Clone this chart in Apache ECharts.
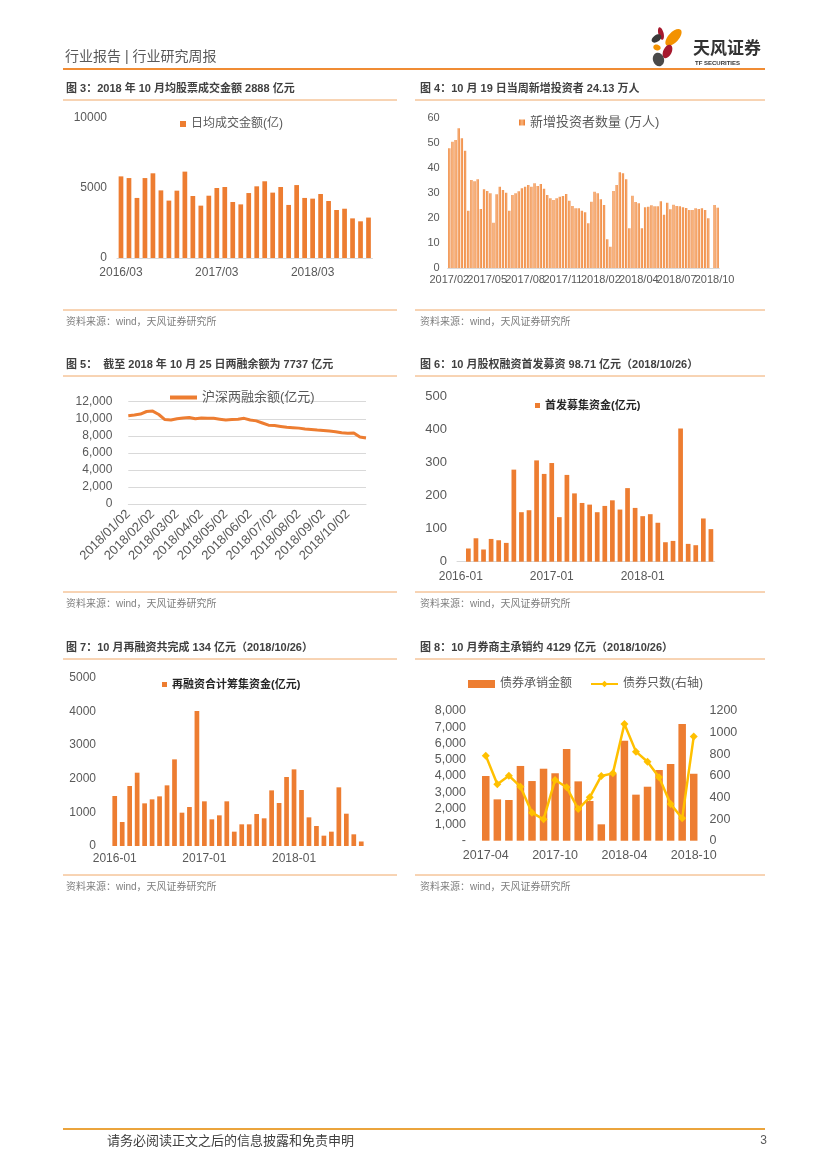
<!DOCTYPE html>
<html><head><meta charset="utf-8">
<script src="https://cdn.jsdelivr.net/npm/echarts/dist/echarts.min.js"></script>
<style>html,body{margin:0;padding:0;background:#fff}#c{width:827px;height:1169px}</style>
</head><body><div id="c"></div>
<script>
// ---------------- data ----------------
function monthSeq(y, m, n, sep) {
  const out = [];
  for (let i = 0; i < n; i++) {
    const mm = ((m - 1 + i) % 12) + 1, yy = y + Math.floor((m - 1 + i) / 12);
    out.push(yy + sep + (mm < 10 ? '0' + mm : mm));
  }
  return out;
}
// 图3 日均成交金额(亿) 2016/03 - 2018/10
const c3Categories = monthSeq(2016, 3, 32, '/');
const c3Values = [5830,5710,4290,5710,6050,4830,4100,4810,6170,4430,3740,4450,5000,5070,4000,3830,4640,5120,5480,4670,5070,3790,5210,4290,4240,4570,4070,3430,3520,2830,2620,2888];

// 图4 新增投资者数量(万人) weekly
const c4Values = [47.9,50.5,51.2,55.9,51.9,46.9,22.9,35.2,34.7,35.5,23.6,31.5,30.8,29.9,18.1,29.5,32.5,31.2,30.1,22.9,29.2,29.9,30.7,31.9,32.5,33.2,32.5,33.9,32.8,33.6,31.7,29.2,27.9,27.2,27.9,28.5,28.8,29.6,26.9,24.8,23.9,23.9,22.9,22.3,17.9,26.5,30.5,29.9,27.5,25.2,11.5,8.5,30.8,33.2,38.3,37.9,35.5,15.9,28.9,26.4,25.9,15.9,24.3,24.5,25.1,24.7,24.7,26.7,21.3,26.1,23.5,25.3,24.8,24.7,24.3,24.0,23.2,23.2,23.9,23.6,23.9,23.2,19.9,0,25.2,24.13];
const c4TickLabels = ['2017/02','2017/05','2017/08','2017/11','2018/02','2018/04','2018/07','2018/10'];
const c4Categories = c4Values.map((v, i) => 'W' + i);

// 图5 沪深两融余额(亿元) 2018
const c5Categories = ['2018/01/02','2018/01/09','2018/01/16','2018/01/23','2018/02/02','2018/02/09','2018/02/16','2018/02/23','2018/03/02','2018/03/09','2018/03/16','2018/03/23','2018/04/02','2018/04/09','2018/04/16','2018/04/23','2018/05/02','2018/05/09','2018/05/16','2018/05/23','2018/06/02','2018/06/09','2018/06/16','2018/06/23','2018/07/02','2018/07/09','2018/07/16','2018/07/23','2018/08/02','2018/08/09','2018/08/16','2018/08/23','2018/09/02','2018/09/09','2018/09/16','2018/09/23','2018/10/02','2018/10/09','2018/10/16','2018/10/25'];
const c5Values = [10360,10450,10550,10850,10900,10500,9900,9850,10000,10100,10150,10000,10100,10050,10050,9950,9850,9900,9950,10050,9850,9750,9500,9250,9200,9100,9000,8950,8900,8800,8750,8680,8620,8560,8480,8350,8300,8330,7850,7737];

// 图6 首发募集资金(亿元) 2016-01 - 2018-10
const c6Categories = monthSeq(2016, 1, 34, '-');
const c6Values = [0,40,71,37,69,65,57,279,150,156,307,266,299,135,263,207,178,173,150,169,186,158,223,163,138,144,118,59,63,404,54,50,131,98.71];

// 图7 再融资合计筹集资金(亿元) 2016-01 - 2018-10
const c7Categories = monthSeq(2016, 1, 34, '-');
const c7Values = [1485,713,1782,2178,1267,1386,1475,1802,2574,990,1158,4010,1327,792,911,1327,426,644,644,950,822,1653,1277,2050,2277,1663,851,594,307,426,1743,960,347,134];

// 图8 债券承销金额 / 债券只数 2017-04 - 2018-10
const c8Categories = monthSeq(2017, 4, 19, '-');
const c8Amount = [3990,2550,2510,4610,3680,4440,4160,5660,3660,2450,1010,4120,6170,2840,3330,4360,4730,7200,4129];
const c8Count = [787,522,602,500,259,198,562,494,293,401,599,623,1080,824,731,586,340,207,963];

// ---------------- styles ----------------
const FONT = '"Liberation Sans","Noto Sans CJK SC",sans-serif';
const ORANGE = '#ED7D31';
const GOLD = '#FFC000';
const LBL = '#595959';
const RULE = '#F0A868';
const plain = v => String(v);
const thousands = v => v === 0 ? '0' : v.toLocaleString('en-US');

function catAxis(gridIndex, data, label, opts) {
  return Object.assign({
    type: 'category', gridIndex: gridIndex, data: data,
    axisTick: { show: false },
    axisLine: { show: true, lineStyle: { color: '#D9D9D9', width: 1 } },
    axisLabel: Object.assign({ color: LBL, fontFamily: FONT, fontSize: 12, margin: 8,
      hideOverlap: false, showMinLabel: true }, label || {}),
    splitLine: { show: false }
  }, opts || {});
}
function valAxis(gridIndex, max, interval, label, opts) {
  return Object.assign({
    type: 'value', gridIndex: gridIndex, min: 0, max: max, interval: interval,
    axisTick: { show: false }, axisLine: { show: false },
    axisLabel: Object.assign({ color: LBL, fontFamily: FONT, fontSize: 12, margin: 10, formatter: plain,
      hideOverlap: false }, label || {}),
    splitLine: { show: false }
  }, opts || {});
}
function grid(left, top, width, height) {
  return { left: left, top: top, width: width, height: height, containLabel: false, outerBoundsMode: 'none' };
}

// ---------------- page graphics ----------------
const g = [];
function text(x, y, s, font, fill, align) {
  g.push({ type: 'text', x: x, y: y, silent: true,
    style: { text: s, font: font, fill: fill, align: align || 'left', verticalAlign: 'middle' } });
}
function rule(x1, y, x2, color, w) {
  g.push({ type: 'line', silent: true, shape: { x1: x1, y1: y, x2: x2, y2: y }, style: { stroke: color, lineWidth: w } });
}
function petal(x, y, rx, ry, rot, color) {
  g.push({ type: 'ellipse', x: x, y: y, rotation: rot, silent: true, shape: { cx: 0, cy: 0, rx: rx, ry: ry }, style: { fill: color } });
}
// header
text(65, 57, '行业报告 | 行业研究周报', '14px ' + FONT, '#595959');
rule(63, 69, 765, '#F08C34', 2);
petal(661, 33.5, 2.6, 6.5, 0.25, '#A6192E');
petal(673.5, 37.5, 5.2, 10.5, -0.75, '#F39200');
petal(656.5, 38.5, 5.5, 3.3, 0.6, '#3A3A3A');
petal(657, 47.5, 3.8, 2.8, -0.3, '#F39200');
petal(667.5, 51.5, 4.2, 7.2, -0.45, '#A6192E');
petal(658.5, 59.5, 5.5, 6.8, 0.35, '#4A4A4A');
text(693, 49, '天风证券', 'bold 17px ' + FONT, '#333333');
text(695, 63, 'TF SECURITIES', 'bold 6px ' + FONT, '#333333');
// titles & sources
const TFONT = 'bold 11px ' + FONT;
const SFONT = '10px ' + FONT;
const titles = [
  [66, 89, '图 3：2018 年 10 月均股票成交金额 2888 亿元'],
  [420, 89, '图 4：10 月 19 日当周新增投资者 24.13 万人'],
  [66, 365, '图 5：  截至 2018 年 10 月 25 日两融余额为 7737 亿元'],
  [420, 365, '图 6：10 月股权融资首发募资 98.71 亿元（2018/10/26）'],
  [66, 648, '图 7：10 月再融资共完成 134 亿元（2018/10/26）'],
  [420, 648, '图 8：10 月券商主承销约 4129 亿元（2018/10/26）']
];
titles.forEach(t => text(t[0], t[1], t[2], TFONT, '#404040'));
[100, 376, 659].forEach(y => { rule(63, y, 397, RULE, 1); rule(415, y, 765, RULE, 1); });
[[310, 322], [592, 604], [875, 887]].forEach(p => {
  rule(63, p[0], 397, RULE, 1); rule(415, p[0], 765, RULE, 1);
  text(66, p[1], '资料来源：wind，天风证券研究所', SFONT, '#7F7F7F');
  text(420, p[1], '资料来源：wind，天风证券研究所', SFONT, '#7F7F7F');
});
// footer
rule(63, 1129, 765, '#EBA43C', 2);
text(107, 1141, '请务必阅读正文之后的信息披露和免责申明', '13px ' + FONT, '#404040');
text(767, 1141, '3', '12px ' + FONT, '#595959', 'right');

// ---------------- chart ----------------
const chart = echarts.init(document.getElementById('c'), null, { renderer: 'canvas', width: 827, height: 1169 });

const c4Gradient = new echarts.graphic.LinearGradient(0, 0, 1, 0, [
  { offset: 0, color: '#EC7A2C' }, { offset: 0.5, color: '#F8B47C' }, { offset: 1, color: '#EC7A2C' }
]);
const c4LabelA = (v, i) => (i % 24 === 0 ? c4TickLabels[i / 12] : '');
const c4LabelB = (v, i) => (i % 24 === 12 ? c4TickLabels[i / 12] : '');

const option = {
  animation: false,
  backgroundColor: '#ffffff',
  textStyle: { fontFamily: FONT },
  graphic: g,
  grid: [
    grid(117, 118, 255.5, 140),
    grid(447.7, 118, 271.6, 150),
    grid(128.3, 401.7, 237.7, 102.3),
    grid(457, 396.7, 257.7, 165),
    grid(111, 677.7, 254, 168.3),
    grid(480, 711, 219.5, 129.7)
  ],
  xAxis: [
    catAxis(0, c3Categories, { margin: 9, interval: 11 }),
    catAxis(1, c4Categories, { fontSize: 11, margin: 6, interval: i => i % 24 === 0, formatter: c4LabelA }, { position: 'bottom' }),
    catAxis(2, c5Categories, { fontSize: 13, margin: 8, interval: 3, rotate: 45 }, { boundaryGap: false }),
    catAxis(3, c6Categories, { margin: 9, interval: 11 }),
    catAxis(4, c7Categories, { margin: 7, interval: 11 }, { axisLine: { show: false } }),
    catAxis(5, c8Categories, { fontSize: 12.5, margin: 9, interval: 5 }, { axisLine: { show: false } }),
    // second label row for 图4 (alternate ticks, same positions)
    catAxis(1, c4Categories, { fontSize: 11, margin: 6, interval: i => i % 24 === 12, formatter: c4LabelB, showMinLabel: null },
      { position: 'bottom', offset: 0, axisLine: { show: false } })
  ],
  yAxis: [
    valAxis(0, 10000, 5000),
    valAxis(1, 60, 10, { fontSize: 11, margin: 8 }),
    valAxis(2, 12000, 2000, { margin: 16, formatter: thousands },
      { splitLine: { show: true, lineStyle: { color: '#D9D9D9', width: 1 } } }),
    valAxis(3, 500, 100, { fontSize: 13, margin: 10 }),
    valAxis(4, 5000, 1000, { margin: 15 }),
    valAxis(5, 8000, 1000, { fontSize: 12.5, margin: 14, formatter: v => (v === 0 ? '-' : v.toLocaleString('en-US')) }),
    valAxis(5, 1200, 200, { fontSize: 12.5, margin: 10 }, { position: 'right' })
  ],
  legend: [
    { left: 180, top: 118, padding: 0, icon: 'rect', itemWidth: 6, itemHeight: 6, itemGap: 10,
      data: ['日均成交金额(亿)'], textStyle: { color: LBL, fontSize: 12, fontFamily: FONT } },
    { left: 519, top: 116, padding: 0, icon: 'rect', itemWidth: 6, itemHeight: 6,
      data: ['新增投资者数量 (万人)'], textStyle: { color: LBL, fontSize: 13, fontFamily: FONT } },
    { left: 170, top: 391, padding: 0, icon: 'rect', itemWidth: 27, itemHeight: 4,
      data: ['沪深两融余额(亿元)'], textStyle: { color: LBL, fontSize: 13, fontFamily: FONT } },
    { left: 535, top: 400, padding: 0, icon: 'rect', itemWidth: 5, itemHeight: 5,
      data: ['首发募集资金(亿元)'], textStyle: { color: '#262626', fontSize: 11, fontWeight: 'bold', fontFamily: FONT } },
    { left: 162, top: 679, padding: 0, icon: 'rect', itemWidth: 5, itemHeight: 5,
      data: ['再融资合计筹集资金(亿元)'], textStyle: { color: '#262626', fontSize: 11, fontWeight: 'bold', fontFamily: FONT } },
    { left: 468, top: 678, padding: 0, itemWidth: 27, itemHeight: 8, itemGap: 18,
      data: [{ name: '债券承销金额', icon: 'rect' }, { name: '债券只数(右轴)' }],
      textStyle: { color: LBL, fontSize: 12, fontFamily: FONT } }
  ],
  series: [
    { type: 'bar', name: '日均成交金额(亿)', xAxisIndex: 0, yAxisIndex: 0, data: c3Values, barWidth: '59%',
      itemStyle: { color: ORANGE } },
    { type: 'bar', name: '新增投资者数量 (万人)', xAxisIndex: 1, yAxisIndex: 1, data: c4Values, barWidth: '72%',
      itemStyle: { color: c4Gradient } },
    { type: 'line', name: '沪深两融余额(亿元)', xAxisIndex: 2, yAxisIndex: 2, data: c5Values, symbol: 'none',
      lineStyle: { color: ORANGE, width: 3 }, itemStyle: { color: ORANGE } },
    { type: 'bar', name: '首发募集资金(亿元)', xAxisIndex: 3, yAxisIndex: 3, data: c6Values, barWidth: '62%',
      itemStyle: { color: ORANGE } },
    { type: 'bar', name: '再融资合计筹集资金(亿元)', xAxisIndex: 4, yAxisIndex: 4, data: c7Values, barWidth: '63%',
      itemStyle: { color: ORANGE } },
    { type: 'bar', name: '债券承销金额', xAxisIndex: 5, yAxisIndex: 5, data: c8Amount, barWidth: '65%',
      itemStyle: { color: ORANGE } },
    { type: 'line', name: '债券只数(右轴)', xAxisIndex: 5, yAxisIndex: 6, data: c8Count,
      symbol: 'diamond', symbolSize: 8, showAllSymbol: true,
      lineStyle: { color: GOLD, width: 2.5 }, itemStyle: { color: GOLD } }
  ]
};
chart.setOption(option);
</script></body></html>
